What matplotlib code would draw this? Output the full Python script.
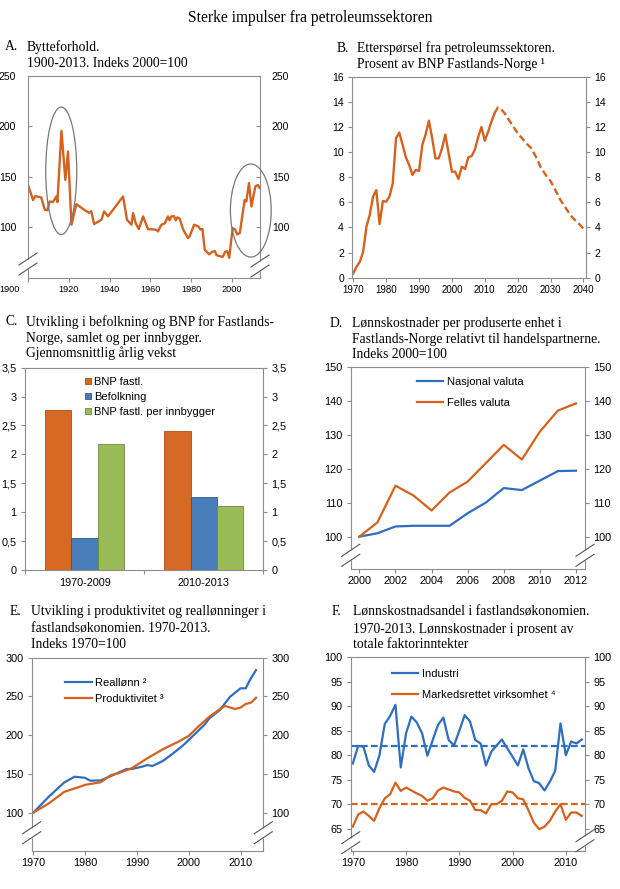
import matplotlib
matplotlib.use('Agg')
import matplotlib.pyplot as plt
import matplotlib.transforms as mtransforms
from matplotlib.patches import Ellipse

W, H = 620, 889
SERIF = ['Liberation Serif', 'DejaVu Serif']
SANS = ['Liberation Sans', 'DejaVu Sans']
plt.rcParams['font.family'] = SANS

ORANGE = '#D4621E'
BLUE = '#2E6EBE'
BAR_OR = '#D66A24'
BAR_BL = '#4A7EBB'
BAR_GR = '#9BBB59'
SPINE = '#8c8c8c'

# ---------------- data ----------------
# A: Bytteforhold
years_A = [1900, 1902.5, 1903.6, 1906.5, 1908.2, 1909.5, 1910.6, 1912.2, 1913.9, 1914.4,
           1916.4, 1918.3, 1919.6, 1921.3, 1923.7, 1927.8, 1930, 1931, 1932.4, 1936,
           1937.3, 1939.2, 1946.6, 1948.5, 1950.7, 1951.5, 1952.8, 1954.3, 1956.4, 1958.8,
           1962.9, 1963.7, 1965.4, 1967, 1968.6, 1969.4, 1970.3, 1971.6, 1972.4, 1973.2,
           1974.4, 1976, 1978.4, 1979.2, 1981.4, 1983.4, 1984.5, 1985.5, 1986.6, 1988,
           1988.8, 1990, 1991.6, 1992.4, 1994, 1995.4, 1996.6, 1997.6, 1998.6, 2000.3,
           2001.5, 2002.5, 2003.8, 2006.2, 2007, 2008.3, 2009.5, 2011.4, 2012.7, 2013.5]
vals_A = [142, 127, 131, 129.6, 117.5, 117, 125.7, 125, 130.6, 125,
          195.5, 147, 175, 102.7, 123, 117, 114.5, 116, 103.3, 107.6,
          115.8, 110.9, 130.6, 107.6, 102.7, 114.2, 104, 98.4, 110.9, 98.4,
          97.7, 96, 102.7, 104, 110.9, 107, 111, 111, 107, 110,
          108.5, 98, 89.5, 91, 102.7, 101, 98, 98.4, 78, 75,
          73.3, 75.7, 76.6, 72.6, 71.6, 70.8, 75.7, 76.6, 70, 99.4,
          98, 93, 94.5, 127.3, 125.7, 143.8, 120.7, 140.5, 142, 139]
ticks_A_x = [1900, 1920, 1940, 1960, 1980, 2000]
ticks_A_y = [100, 150, 200, 250]

# B: Etterspørsel fra petroleumssektoren
years_B = list(range(1970, 2014))
vals_B = [0.35, 0.88, 1.27, 2.07, 4.06, 4.99, 6.45, 6.98, 4.27, 6.10,
          6.05, 6.45, 7.50, 11.10, 11.55, 10.57, 9.58, 8.97, 8.18, 8.58,
          8.50, 10.57, 11.40, 12.50, 11.10, 9.50, 9.50, 10.30, 11.40, 9.90,
          8.44, 8.44, 7.86, 8.84, 8.65, 9.58, 9.68, 10.2, 11.2, 12.0,
          10.9, 11.6, 12.4, 13.1]
years_B_proj = list(range(2013, 2041))
vals_B_proj = [13.1, 13.55, 13.4, 13.1, 12.7, 12.3, 11.9, 11.5, 11.2, 10.9,
               10.6, 10.35, 9.9, 9.4, 8.8, 8.4, 8.0, 7.7, 7.2, 6.7,
               6.2, 5.8, 5.4, 5.0, 4.7, 4.45, 4.2, 3.9]
ticks_B_x = list(range(1970, 2041, 10))
ticks_B_y = list(range(0, 17, 2))

# C: vekst
cats_C = ['1970-2009', '2010-2013']
bnp_C = [2.76, 2.41]
bef_C = [0.56, 1.27]
per_C = [2.18, 1.11]
ticks_C_y = [0, 0.5, 1, 1.5, 2, 2.5, 3, 3.5]
labels_C_y = ['0', '0,5', '1', '1,5', '2', '2,5', '3', '3,5']

# D: Lønnskostnader per produserte enhet
years_D = list(range(2000, 2013))
nasjonal_D = [100, 101, 103, 103.2, 103.2, 103.2, 106.9, 110, 114.3, 113.7, 116.5, 119.3, 119.4]
felles_D = [100, 104.2, 115.0, 112.1, 107.7, 113.0, 116.2, 121.6, 127.0, 122.7, 130.9, 137.1, 139.2]
ticks_D_x = list(range(2000, 2013, 2))
ticks_D_y = [100, 110, 120, 130, 140, 150]

# E: produktivitet og reallønn
years_E1 = [1970, 1973, 1976, 1978, 1980, 1981, 1983, 1985, 1988, 1989, 1991, 1992, 1993,
            1995, 1997, 1999, 2001, 2003, 2004, 2006, 2008, 2010, 2011, 2012, 2013]
reallonn_E = [100, 120.7, 139.2, 146.5, 145, 141.3, 141.7, 147.4, 156.4, 156.4, 159.4, 161.5, 160.3,
              166.7, 176.6, 187.4, 200.3, 213.2, 221.8, 232.5, 249.7, 260.5, 260.5, 273.4, 284]
years_E2 = [1970, 1973, 1976, 1979, 1980, 1983, 1985, 1986, 1989, 1992, 1995, 1998, 2000,
            2002, 2004, 2006, 2007, 2009, 2010, 2011, 2012, 2013]
produkt_E = [100, 112, 127, 133.5, 136, 139.2, 148.6, 150, 157.3, 170.2, 181.8, 191.6, 199,
             212, 223.9, 233.4, 237.7, 233.8, 235.6, 240.3, 241.9, 248.4]
ticks_E_x = [1970, 1980, 1990, 2000, 2010]
ticks_E_y = [100, 150, 200, 250, 300]

# F: lønnskostnadsandel
years_F = list(range(1970, 2014))
industri_F = [78.3, 81.9, 81.75, 77.9, 76.6, 80.0, 86.4, 88.0, 90.3, 77.5,
              84.5, 87.9, 86.7, 84.5, 79.9, 83.1, 86.2, 87.7, 83.1, 82.0,
              85.0, 88.2, 86.9, 83.1, 82.4, 77.9, 80.7, 82.0, 83.2, 81.4,
              79.7, 77.9, 81.2, 77.3, 74.7, 74.3, 72.8, 74.6, 76.8, 86.5,
              80.0, 82.8, 82.4, 83.2]
marked_F = [65.4, 67.9, 68.5, 67.6, 66.6, 69.2, 71.2, 72.0, 74.4, 72.7,
            73.4, 72.8, 72.2, 71.7, 70.7, 71.2, 72.8, 73.4, 73.0, 72.6,
            72.4, 71.3, 70.7, 68.8, 68.8, 68.1, 70.0, 70.0, 70.7, 72.6,
            72.4, 71.2, 71.0, 68.7, 66.2, 64.9, 65.4, 66.6, 68.5, 70.0,
            66.8, 68.3, 68.3, 67.6]
avg_industri_F = 81.8
avg_marked_F = 70.0
ticks_F_x = [1970, 1980, 1990, 2000, 2010]
ticks_F_y = [65, 70, 75, 80, 85, 90, 95, 100]

# ---------------- figure ----------------
fig = plt.figure(figsize=(W / 100, H / 100), dpi=100)


def add_ax(l, r, t, b):
    return fig.add_axes([l / W, 1 - b / H, (r - l) / W, (b - t) / H])


def style(ax, fsx, fsy, ydir='out', ypad=3):
    for s in ax.spines.values():
        s.set_color(SPINE)
        s.set_linewidth(0.8)
    ax.tick_params(axis='both', which='both', colors=SPINE, labelcolor='black', width=0.8)
    ax.tick_params(axis='x', direction='out', length=3, pad=2, labelsize=fsx)
    ax.tick_params(axis='y', direction=ydir, length=3, pad=ypad, labelsize=fsy,
                   left=True, right=True, labelleft=True, labelright=True)


def breaks(ax, yc_left, yc_right):
    bb = ax.get_position()
    wpx = bb.width * W
    hpx = bb.height * H
    for xs, yc in ((0, yc_left), (1, yc_right)):
        ax.plot([xs, xs], [(yc - 5) / hpx, (yc + 5) / hpx], transform=ax.transAxes,
                color='white', lw=2.5, clip_on=False, zorder=5, solid_capstyle='butt')
        for off in (-5, 5):
            ax.plot([xs - 9 / wpx, xs + 9 / wpx],
                    [(yc + off - 6) / hpx, (yc + off + 6) / hpx],
                    transform=ax.transAxes, color='#555555', lw=0.8,
                    clip_on=False, zorder=6)


def title(xl, xt, ys, letter, lines, size=9.8):
    fig.text(xl / W, 1 - ys[0] / H, letter, family=SERIF, fontsize=size, va='center', ha='left')
    for y, line in zip(ys, lines):
        fig.text(xt / W, 1 - y / H, line, family=SERIF, fontsize=size, va='center', ha='left')


fig.text(0.5, 1 - 18 / H, 'Sterke impulser fra petroleumssektoren', family=SERIF,
         fontsize=11.2, ha='center', va='center')

# ---- A ----
axA = add_ax(28, 260, 75.7, 278)
axA.plot(years_A, vals_A, color=ORANGE, lw=1.7, solid_joinstyle='round')
axA.set_xlim(1900, 2013.7)
axA.set_ylim(50, 250)
axA.set_xticks(ticks_A_x)
axA.set_yticks(ticks_A_y)
style(axA, 6.6, 7.5, ydir='in', ypad=8.5)
first = axA.get_xticklabels()[0]
first.set_ha('right')
first.set_transform(first.get_transform() + mtransforms.ScaledTranslation(-8 / 100, 0, fig.dpi_scale_trans))
axA.add_patch(Ellipse((1916.3, 156), 15.2, 126, fill=False, ec='#777777', lw=0.9, clip_on=False, zorder=4))
axA.add_patch(Ellipse((2009.2, 116.7), 20, 92, fill=False, ec='#777777', lw=0.9, clip_on=False, zorder=4))
breaks(axA, 14, 12)
title(5, 27, [46.7, 63.3], 'A.', ['Bytteforhold.', '1900-2013. Indeks 2000=100'])

# ---- B ----
axB = add_ax(352.3, 586, 76.7, 277.7)
axB.plot(years_B, vals_B, color=ORANGE, lw=1.7)
axB.plot(years_B_proj, vals_B_proj, color=ORANGE, lw=1.7, linestyle=(0, (3, 1.5)))
axB.set_xlim(1969.7, 2040.8)
axB.set_ylim(0, 16)
axB.set_xticks(ticks_B_x)
axB.set_yticks(ticks_B_y)
style(axB, 7.0, 7.5)
title(336.7, 356.7, [48.3, 64.3], 'B.', ['Etterspørsel fra petroleumssektoren.',
                                          'Prosent av BNP Fastlands-Norge ¹'])

# ---- C ----
axC = add_ax(25, 263.3, 367.7, 570)
xc = list(range(len(cats_C)))
bw = 0.22
axC.bar([x - bw for x in xc], bnp_C, bw, color=BAR_OR, edgecolor='#A84E14', lw=0.6, label='BNP fastl.')
axC.bar(xc, bef_C, bw, color=BAR_BL, edgecolor='#2F5A8C', lw=0.6, label='Befolkning')
axC.bar([x + bw for x in xc], per_C, bw, color=BAR_GR, edgecolor='#6F8A3A', lw=0.6,
        label='BNP fastl. per innbygger')
axC.set_xlim(-0.5, 1.5)
axC.set_ylim(0, 3.5)
axC.set_yticks(ticks_C_y, labels_C_y)
axC.set_xticks(xc, cats_C)
axC.set_xticks([-0.5, 0.5, 1.5], minor=True)
style(axC, 7.8, 7.8)
axC.tick_params(axis='x', which='major', length=0, pad=6)
axC.tick_params(axis='x', which='minor', length=3)
axC.legend(loc='upper left', bbox_to_anchor=(0.252, 0.955), frameon=False, fontsize=8,
           handlelength=0.55, handleheight=0.55, handletextpad=0.25, labelspacing=0.45,
           borderpad=0, borderaxespad=0)
title(6, 26, [321.7, 338.3, 353.3], 'C.', ['Utvikling i befolkning og BNP for Fastlands-',
                                           'Norge, samlet og per innbygger.',
                                           'Gjennomsnittlig årlig vekst'])

# ---- D ----
axD = add_ax(350.7, 585, 366.7, 569.3)
axD.plot(years_D, nasjonal_D, color=BLUE, lw=1.6, label='Nasjonal valuta')
axD.plot(years_D, felles_D, color=ORANGE, lw=1.6, label='Felles valuta')
axD.set_xlim(1999.52, 2012.5)
axD.set_ylim(90.4, 150)
axD.set_xticks(ticks_D_x)
axD.set_yticks(ticks_D_y)
style(axD, 7.8, 7.8)
axD.legend(loc='upper left', bbox_to_anchor=(0.282, 0.95), frameon=False, fontsize=8,
           handlelength=2.4, handletextpad=0.3, labelspacing=1.0, borderpad=0, borderaxespad=0)
breaks(axD, 14, 14)
title(330, 351.7, [323.3, 339.3, 354.3], 'D.', ['Lønnskostnader per produserte enhet i',
                                                'Fastlands-Norge relativt til handelspartnerne.',
                                                'Indeks 2000=100'])

# ---- E ----
axE = add_ax(31.7, 263.3, 657.7, 850.7)
axE.plot(years_E1, reallonn_E, color=BLUE, lw=1.6, label='Reallønn ²')
axE.plot(years_E2, produkt_E, color=ORANGE, lw=1.6, label='Produktivitet ³')
axE.set_xlim(1969.7, 2014.4)
axE.set_ylim(51, 300)
axE.set_xticks(ticks_E_x)
axE.set_yticks(ticks_E_y)
style(axE, 7.8, 7.8)
axE.legend(loc='upper left', bbox_to_anchor=(0.144, 0.895), frameon=False, fontsize=8,
           handlelength=2.4, handletextpad=0.3, labelspacing=0.5, borderpad=0, borderaxespad=0)
breaks(axE, 18, 18)
title(10, 30.7, [611.7, 629.3, 645], 'E.', ['Utvikling i produktivitet og reallønninger i',
                                            'fastlandsøkonomien. 1970-2013.',
                                            'Indeks 1970=100'])

# ---- F ----
axF = add_ax(350.7, 585, 657.3, 850.7)
axF.plot(years_F, industri_F, color=BLUE, lw=1.6, label='Industri')
axF.plot(years_F, marked_F, color=ORANGE, lw=1.6, label='Markedsrettet virksomhet ⁴')
axF.axhline(avg_industri_F, color=BLUE, lw=1.6, linestyle=(0, (3, 1.5)))
axF.axhline(avg_marked_F, color=ORANGE, lw=1.6, linestyle=(0, (3, 1.5)))
axF.set_xlim(1969.6, 2013.6)
axF.set_ylim(60.5, 100)
axF.set_xticks(ticks_F_x)
axF.set_yticks(ticks_F_y)
style(axF, 7.8, 7.8)
axF.legend(loc='upper left', bbox_to_anchor=(0.175, 0.94), frameon=False, fontsize=8,
           handlelength=2.4, handletextpad=0.3, labelspacing=1.0, borderpad=0, borderaxespad=0)
breaks(axF, 8, 10)
title(331.7, 353.3, [611.7, 629.3, 645], 'F.', ['Lønnskostnadsandel i fastlandsøkonomien.',
                                                '1970-2013. Lønnskostnader i prosent av',
                                                'totale faktorinntekter'])

fig.savefig('out.png', dpi=100)
